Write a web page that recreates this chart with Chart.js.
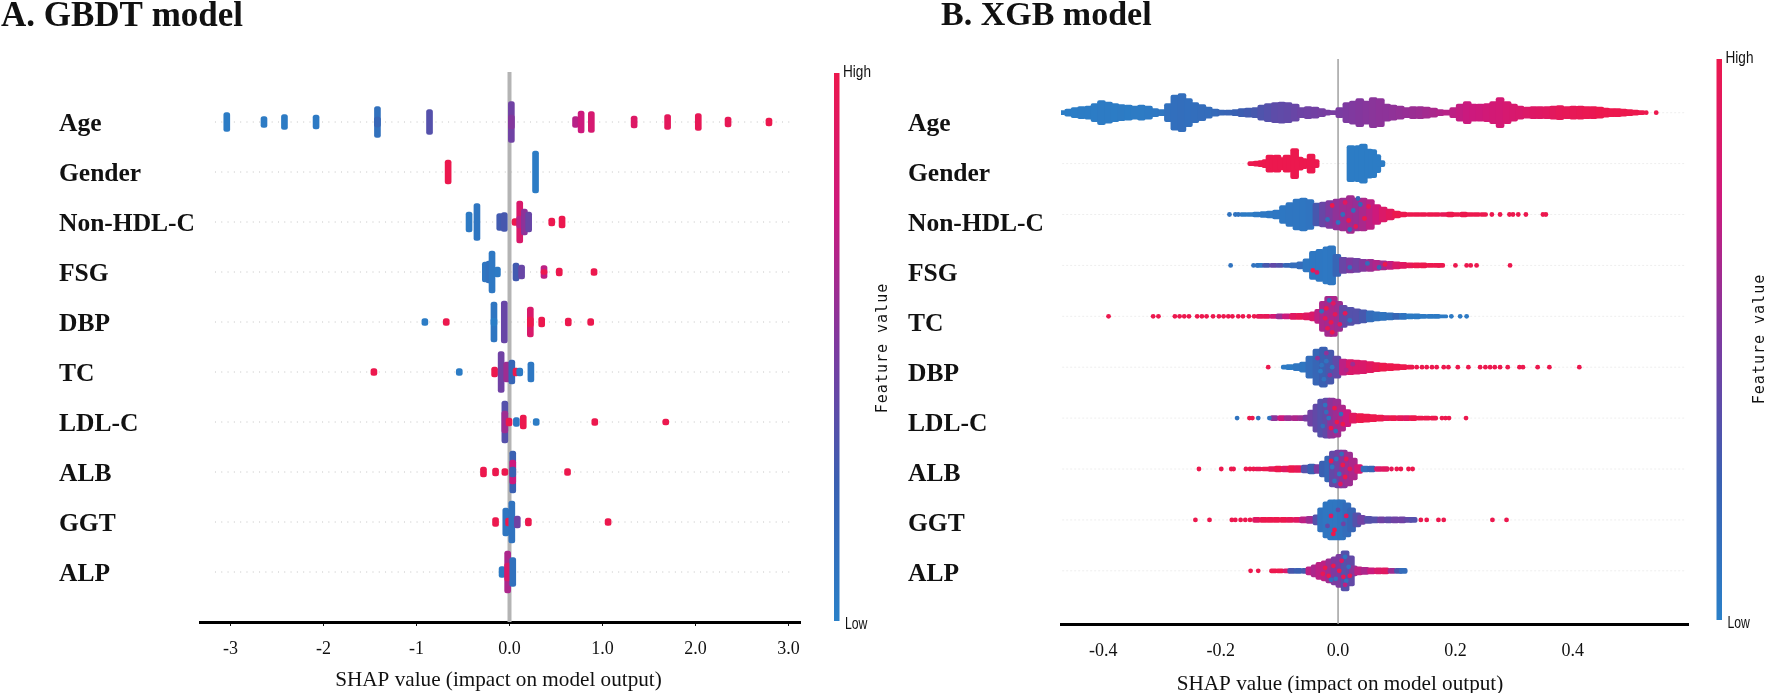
<!DOCTYPE html>
<html lang="en">
<head>
  <meta charset="UTF-8">
  <title>SHAP summary: GBDT and XGB models</title>
  <script src="https://cdn.jsdelivr.net/npm/chart.js"></script>
  <style>
    body { margin: 0; background: #fff; }
    canvas { position: absolute; top: 0; }
    #gbdtChart { left: 0; }
    #xgbChart { left: 905px; }
  </style>
</head>
<body>

<canvas id="gbdtChart" width="905" height="693"></canvas>
<canvas id="xgbChart" width="865" height="693"></canvas>

<script>
const gbdtFeatures = ['Age', 'Gender', 'Non-HDL-C', 'FSG', 'DBP', 'TC', 'LDL-C', 'ALB', 'GGT', 'ALP'];
const xgbFeatures = ['Age', 'Gender', 'Non-HDL-C', 'FSG', 'TC', 'DBP', 'LDL-C', 'ALB', 'GGT', 'ALP'];

const gbdtTicks = [-3, -2, -1, 0, 1, 2, 3];
const gbdtTickLabels = ['-3', '-2', '-1', '0.0', '1.0', '2.0', '3.0'];
const xgbTicks = [-0.4, -0.2, 0, 0.2, 0.4];
const xgbTickLabels = ['-0.4', '-0.2', '0.0', '0.2', '0.4'];

// swarm columns: [shap value, samples stacked, feature value 0-1]
const gbdtAge = [[-3.04,19,.03],[-2.64,11,.04],[-2.42,15,.04],[-2.08,14,.05],[-1.42,31,.12],[-1.42,10,.2],[-0.86,25,.35],[0.02,41,.45],[0.02,14,.52],[0.71,11,.68],[0.77,22,.75],[0.88,21,.82],[1.34,12,.88],[1.70,15,.93],[2.03,17,.96],[2.35,10,.96],[2.79,8,1]];
const gbdtGender = [[-0.66,24,1],[0.28,42,.03]];
const gbdtNonHdl = [[-0.435,20,.05],[-0.35,37,.08],[-0.105,17,.28],[-0.056,19,.3],[0.06,7,1],[0.11,42,.85],[0.11,12,.7],[0.16,26,.55],[0.206,20,.42],[0.454,8,1],[0.565,12,1]];
const gbdtFsg = [[-0.26,20,.08],[-0.22,22,.12],[-0.188,42,.06],[-0.13,10,.05],[0.07,18,.28],[0.13,14,.42],[0.371,13,.7],[0.371,5,1],[0.535,8,1],[0.909,7,1]];
const gbdtDbp = [[-0.91,7,.03],[-0.68,7,1],[-0.167,40,.08],[-0.167,8,.02],[-0.056,42,.42],[0.224,30,.85],[0.224,10,1],[0.346,10,1],[0.632,8,1],[0.873,7,1]];
const gbdtTc = [[-1.458,7,1],[-0.54,7,.03],[-0.16,10,1],[-0.09,41,.45],[-0.03,20,.6],[0.025,24,.2],[0.07,8,1],[0.11,8,.05],[0.23,20,.06]];
const gbdtLdl = [[-0.05,42,.35],[-0.05,22,.6],[-0.005,8,1],[0.074,9,.06],[0.148,14,1],[0.287,7,.03],[0.917,7,1],[1.68,6,1]];
const gbdtAlb = [[-0.28,10,1],[-0.15,8,1],[-0.05,7,1],[0.035,42,.25],[0.035,24,.75],[0.035,10,.25],[0.624,7,1]];
const gbdtGgt = [[-0.15,9,1],[-0.04,28,.08],[-0.01,8,1],[0.025,42,.1],[0.084,12,.45],[0.203,8,1],[1.06,7,1]];
const gbdtAlp = [[-0.08,11,.05],[-0.02,42,.65],[-0.02,18,.85],[0.035,29,.12]];

const xgbAge = [[-0.471,4,.02],[-0.459,7,.02],[-0.448,10,.02],[-0.437,12,.03],[-0.425,13,.03],[-0.414,18,.03],[-0.403,24,.04],[-0.391,21,.04],[-0.380,18,.03],[-0.369,16,.04],[-0.357,15,.03],[-0.346,13,.04],[-0.335,15,.04],[-0.323,13,.05],[-0.312,8,.06],[-0.300,6,.08],[-0.289,18,.12],[-0.278,35,.13],[-0.266,38,.14],[-0.255,28,.13],[-0.244,20,.14],[-0.232,16,.15],[-0.221,11,.15],[-0.209,7,.17],[-0.198,5,.2],[-0.187,5,.22],[-0.175,6,.24],[-0.164,8,.26],[-0.153,9,.28],[-0.141,10,.3],[-0.130,15,.33],[-0.119,18,.35],[-0.107,20,.38],[-0.096,21,.39],[-0.085,20,.4],[-0.073,17,.42],[-0.062,10,.44],[-0.051,12,.45],[-0.039,11,.46],[-0.028,8,.47],[-0.019,5,.48],[-0.008,4,.48],[0.003,10,.49],[0.015,20,.5],[0.026,23,.51],[0.037,28,.52],[0.049,23,.53],[0.060,30,.54],[0.072,28,.55],[0.083,17,.55],[0.094,15,.56],[0.106,13,.57],[0.117,10,.58],[0.128,12,.59],[0.140,12,.6],[0.151,11,.62],[0.163,9,.64],[0.174,6,.66],[0.185,5,.68],[0.197,10,.7],[0.208,17,.72],[0.220,22,.74],[0.231,17,.75],[0.242,17,.76],[0.254,18,.78],[0.265,22,.79],[0.276,30,.8],[0.288,22,.82],[0.299,17,.83],[0.310,13,.84],[0.322,11,.86],[0.333,12,.88],[0.344,12,.89],[0.356,12,.9],[0.367,13,.92],[0.378,14,.94],[0.390,12,.95],[0.401,13,.96],[0.413,13,.97],[0.424,12,.98],[0.435,12,.98],[0.446,11,1],[0.456,9,1],[0.466,8,1],[0.476,8,1],[0.486,7,1],[0.496,6,1],[0.506,5,1],[0.516,4,1]];
const xgbGender = [[-0.147,4,1],[-0.138,5,1],[-0.130,6,1],[-0.123,8,1],[-0.116,17,1],[-0.110,9,1],[-0.104,17,1],[-0.096,12,1],[-0.087,17,1],[-0.080,14,1],[-0.074,30,1],[-0.066,13,1],[-0.059,10,1],[-0.052,8,1],[-0.046,19,1],[-0.039,8,1],[0.022,36,.03],[0.035,36,.03],[0.043,39,.03],[0.052,29,.03],[0.059,28,.03],[0.066,18,.03],[0.073,6,.03]];
const xgbNonHdl = [[-0.161,4,.04],[-0.150,4,.04],[-0.139,5,.05],[-0.127,6,.06],[-0.116,7,.06],[-0.105,9,.07],[-0.093,18,.07],[-0.082,24,.08],[-0.070,31,.08],[-0.059,33,.08],[-0.048,30,.09],[-0.036,23,.3],[-0.025,25,.42],[-0.014,28,.5],[-0.002,31,.56],[0.009,33,.6],[0.021,38,.62],[0.032,33,.58],[0.043,33,.64],[0.055,30,.7],[0.066,20,.76],[0.077,15,.86],[0.089,11,.92],[0.100,7,1],[0.111,5,1],[0.123,4,1],[0.134,4,1],[0.145,4,1],[0.157,4,1],[0.168,4,1],[0.180,4,.95],[0.191,5,1],[0.202,4,1],[0.214,5,1],[0.225,4,1],[0.236,4,1],[0.248,4,1]];
const xgbFsg = [[-0.133,4,.05],[-0.122,4,.3],[-0.110,4,.4],[-0.099,4,.35],[-0.087,4,.2],[-0.076,5,.15],[-0.064,7,.15],[-0.053,13,.08],[-0.042,28,.07],[-0.031,32,.07],[-0.019,37,.06],[-0.011,39,.07],[-0.002,22,.2],[0.009,16,.42],[0.021,15,.5],[0.032,14,.45],[0.043,12,.52],[0.055,12,.6],[0.066,10,.66],[0.077,9,.62],[0.089,8,.72],[0.100,7,.85],[0.111,6,.9],[0.123,5,.95],[0.134,5,1],[0.145,5,1],[0.157,4,1],[0.168,4,1],[0.175,4,1]];
const xgbTc = [[-0.133,4,.95],[-0.122,4,.95],[-0.110,4,.8],[-0.099,5,.6],[-0.088,5,.75],[-0.076,6,.9],[-0.065,6,.95],[-0.053,7,.9],[-0.042,9,.85],[-0.033,14,.7],[-0.025,30,.65],[-0.016,40,.62],[-0.008,40,.65],[0.001,30,.6],[0.009,22,.4],[0.021,18,.35],[0.032,15,.35],[0.043,13,.3],[0.055,11,.15],[0.066,9,.12],[0.077,8,.1],[0.089,7,.12],[0.100,6,.2],[0.111,6,.1],[0.123,5,.05],[0.134,5,.05],[0.145,4,.05],[0.157,4,.05],[0.168,4,.05],[0.180,3,.05]];
const xgbDbp = [[-0.090,4,.05],[-0.082,5,.05],[-0.070,7,.08],[-0.059,10,.08],[-0.048,22,.15],[-0.036,36,.2],[-0.025,40,.25],[-0.014,34,.3],[-0.002,22,.4],[0.009,16,.7],[0.021,15,.85],[0.032,14,.85],[0.043,13,.85],[0.055,11,.9],[0.066,9,.95],[0.077,8,1],[0.089,7,1],[0.100,6,1],[0.111,5,1],[0.123,4,1]];
const xgbLdl = [[-0.109,5,.55],[-0.096,5,.75],[-0.085,5,.6],[-0.073,5,.65],[-0.062,5,.6],[-0.053,6,.5],[-0.045,16,.45],[-0.036,28,.4],[-0.028,38,.35],[-0.019,40,.4],[-0.011,40,.55],[-0.002,38,.6],[0.006,26,.65],[0.015,17,.75],[0.026,10,.9],[0.038,9,1],[0.049,8,1],[0.060,7,1],[0.072,6,1],[0.083,5,.95],[0.094,5,1],[0.106,5,.95],[0.117,5,.9],[0.128,5,1],[0.140,4,1],[0.151,4,1],[0.163,4,1]];
const xgbAlb = [[-0.136,4,.95],[-0.124,4,1],[-0.113,5,.95],[-0.102,6,1],[-0.090,6,.9],[-0.079,7,1],[-0.068,7,.95],[-0.056,8,.35],[-0.045,10,.25],[-0.034,9,.5],[-0.025,16,.25],[-0.016,26,.2],[-0.008,36,.4],[0.001,38,.45],[0.009,38,.55],[0.018,34,.6],[0.026,22,.65],[0.035,9,.8],[0.046,6,.15],[0.057,6,.2],[0.069,5,.85],[0.080,5,.9]];
const xgbGgt = [[-0.139,5,.9],[-0.127,5,1],[-0.116,5,1],[-0.105,5,1],[-0.093,5,1],[-0.082,5,.95],[-0.070,5,.9],[-0.059,6,.7],[-0.048,7,.6],[-0.036,10,.35],[-0.028,24,.1],[-0.019,36,.08],[-0.011,40,.08],[-0.002,40,.08],[0.006,40,.1],[0.015,34,.15],[0.023,24,.2],[0.032,14,.35],[0.040,9,.45],[0.052,7,.35],[0.063,6,.35],[0.074,6,.45],[0.086,6,.4],[0.097,6,.45],[0.109,6,.45],[0.120,5,.4],[0.128,5,.35]];
const xgbAlp = [[-0.110,4,1],[-0.099,4,1],[-0.087,4,.85],[-0.079,5,.3],[-0.068,5,.25],[-0.056,5,.3],[-0.048,8,.7],[-0.039,12,.65],[-0.031,17,.7],[-0.022,20,.7],[-0.014,24,.6],[-0.005,28,.5],[0.003,33,.5],[0.012,40,.35],[0.021,30,.4],[0.026,10,.55],[0.035,8,.7],[0.046,7,.65],[0.057,6,.75],[0.069,6,.85],[0.080,6,.9],[0.092,5,.6],[0.103,5,.3],[0.111,5,.15]];

// single samples outside the swarms: [shap value, feature value 0-1]
const xgbAgeDots = [[0.525,1],[0.542,1]];
const xgbGenderDots = [];
const xgbNonHdlDots = [[-0.185,.1],[-0.175,.1],[-0.170,.1],[0.262,1],[0.276,1],[0.292,1],[0.298,1],[0.307,1],[0.320,1],[0.349,1],[0.354,1]];
const xgbFsgDots = [[-0.183,.1],[-0.144,.1],[-0.138,.1],[0.200,1],[0.219,1],[0.226,1],[0.236,1],[0.293,1]];
const xgbTcDots = [[-0.391,1],[-0.315,1],[-0.306,1],[-0.278,1],[-0.270,1],[-0.262,1],[-0.254,1],[-0.240,1],[-0.232,1],[-0.224,1],[-0.213,1],[-0.203,1],[-0.195,1],[-0.187,1],[-0.180,1],[-0.170,1],[-0.162,1],[-0.152,1],[-0.143,1],[0.193,.05],[0.208,.05],[0.219,.05]];
const xgbDbpDots = [[-0.119,1],[0.134,1],[0.143,1],[0.151,1],[0.160,1],[0.168,1],[0.180,1],[0.188,1],[0.204,1],[0.222,1],[0.242,1],[0.251,1],[0.259,1],[0.267,1],[0.276,1],[0.289,1],[0.309,1],[0.315,1],[0.340,1],[0.360,1],[0.411,1]];
const xgbLdlDots = [[-0.172,.1],[-0.151,1],[-0.146,1],[-0.136,.1],[-0.117,.1],[0.177,1],[0.183,1],[0.189,1],[0.218,1]];
const xgbAlbDots = [[-0.237,1],[-0.199,1],[-0.182,1],[-0.178,1],[-0.157,1],[-0.150,1],[-0.144,1],[0.091,.95],[0.100,1],[0.107,1],[0.120,1],[0.127,1]];
const xgbGgtDots = [[-0.243,1],[-0.219,1],[-0.181,1],[-0.175,1],[-0.166,1],[-0.158,1],[-0.150,1],[0.141,1],[0.151,1],[0.171,1],[0.180,1],[0.263,1],[0.287,1]];
const xgbAlpDots = [[-0.149,1],[-0.136,1]];

// samples that stand out inside the dense middle: [shap value, samples off the row centre, feature value 0-1]
const xgbNonHdlFleck = [[-0.01,-9,1],[0.0,8,.1],[0.012,-12,.9],[0.018,6,1],[0.026,-4,.15],[0.03,12,.95],[0.038,-10,.2],[0.045,4,1],[0.052,-8,.95],[0.008,0,.15],[0.034,-16,.2],[-0.018,5,.15],[0.02,15,.2]];
const xgbFsgFleck = [[-0.043,5,1],[-0.036,7,.85],[0.02,2,.15],[0.05,-2,.15],[0.07,2,.2],[0.08,-1,1]];
const xgbTcFleck = [[-0.02,-8,1],[-0.012,6,1],[-0.005,-2,.95],[-0.018,12,.95],[-0.01,16,1],[-0.022,2,.95],[0.003,8,.9],[-0.008,-13,.9],[0.012,-3,.95],[0.02,4,.1],[-0.028,-5,.15],[-0.015,-16,.15]];
const xgbDbpFleck = [[-0.03,4,.05],[-0.02,-6,.1],[-0.014,8,.55],[-0.024,12,.1],[-0.035,-9,.55],[-0.01,0,.05],[-0.02,-14,.55],[-0.028,-2,.1],[0.014,3,.65],[0.025,-3,.6]];
const xgbLdlFleck = [[-0.02,-6,.15],[-0.026,8,.15],[-0.006,-10,1],[-0.002,4,1],[-0.012,10,1],[-0.016,0,.1],[-0.004,13,.15],[-0.022,-13,.1],[0.005,-4,.15],[0.008,6,1]];
const xgbAlbFleck = [[-0.003,-10,.1],[0.002,5,.08],[0.008,-4,1],[0.012,8,1],[0.014,-10,.95],[-0.006,12,.1],[0.02,0,.95],[-0.01,-2,.08],[0.004,15,.9],[0.006,-15,.15],[-0.012,-8,1]];
const xgbGgtFleck = [[-0.012,-4,.9],[-0.006,10,1],[-0.018,6,.4],[0.0,-10,.4],[0.009,4,.45],[-0.008,14,1],[0.014,-4,.9]];
const xgbAlpFleck = [[-0.022,-3,1],[-0.016,5,1],[-0.008,-5,1],[-0.004,8,.1],[0.002,0,1],[0.006,-10,.9],[0.009,6,.95],[0.012,-14,.1],[0.014,10,.1],[-0.012,9,.15],[-0.026,3,.95],[0.018,-4,.1],[0.02,5,.95],[0.012,14,.7]];
const xgbFleckRows = [[], [], xgbNonHdlFleck, xgbFsgFleck, xgbTcFleck, xgbDbpFleck, xgbLdlFleck, xgbAlbFleck, xgbGgtFleck, xgbAlpFleck];

const gbdtRows = [gbdtAge, gbdtGender, gbdtNonHdl, gbdtFsg, gbdtDbp, gbdtTc, gbdtLdl, gbdtAlb, gbdtGgt, gbdtAlp];
const xgbRows = [xgbAge, xgbGender, xgbNonHdl, xgbFsg, xgbTc, xgbDbp, xgbLdl, xgbAlb, xgbGgt, xgbAlp];
const xgbDotRows = [xgbAgeDots, xgbGenderDots, xgbNonHdlDots, xgbFsgDots, xgbTcDots, xgbDbpDots, xgbLdlDots, xgbAlbDots, xgbGgtDots, xgbAlpDots];

const toneStops = [[0, 42, 128, 200], [.25, 58, 96, 178], [.5, 125, 58, 160], [.75, 205, 25, 125], [1, 236, 24, 78]];
const serif = '"Liberation Serif", serif';

function toneColor(t) {
  for (let i = 1; i < toneStops.length; i++) {
    const a = toneStops[i - 1], b = toneStops[i];
    if (t <= b[0]) {
      const f = (t - a[0]) / (b[0] - a[0]);
      return `rgb(${a[1] + (b[1] - a[1]) * f},${a[2] + (b[2] - a[2]) * f},${a[3] + (b[3] - a[3]) * f})`;
    }
  }
  return 'rgb(236,24,78)';
}

// colour bar and the free-standing captions, one set per panel
function panelDecor(cfg) {
  return {
    id: 'panelDecor',
    afterDraw(chart) {
      const c = chart.ctx;
      c.save();
      const g = c.createLinearGradient(0, cfg.barBottom, 0, cfg.barTop);
      toneStops.forEach(s => g.addColorStop(s[0], `rgb(${s[1]},${s[2]},${s[3]})`));
      c.fillStyle = g;
      c.fillRect(cfg.barX, cfg.barTop, 5.5, cfg.barBottom - cfg.barTop);

      c.fillStyle = '#111';
      c.textBaseline = 'alphabetic';
      c.font = `bold ${cfg.titleSize}px ${serif}`;
      c.fillText(cfg.title, cfg.titleX, cfg.titleY);
      c.font = `21.2px ${serif}`;
      c.textAlign = 'center';
      c.fillText('SHAP value (impact on model output)', cfg.axisTitleX, cfg.axisTitleY);

      // High / Low are a condensed face in the original
      c.textAlign = 'left';
      c.font = '17px "Liberation Sans", sans-serif';
      c.save();
      c.translate(cfg.barX + 9, cfg.barTop + 4);
      c.scale(.8, 1);
      c.fillText('High', 0, 0);
      c.restore();
      c.save();
      c.translate(cfg.barX + 11, cfg.barBottom + 8);
      c.scale(.72, 1);
      c.fillText('Low', 0, 0);
      c.restore();

      c.translate(cfg.valueX, cfg.valueY);
      c.rotate(-Math.PI / 2);
      c.textAlign = 'center';
      c.textBaseline = 'middle';
      c.font = '15px "DejaVu Sans Mono", monospace';
      c.letterSpacing = '1px';
      c.fillText('Feature value', 0, 0);
      c.restore();
    }
  };
}

function swarmChart(id, p) {
  const columns = [];
  p.rows.forEach((row, r) => row.forEach(([shap, samples, tone]) => {
    columns.push({ x: shap, y: [r - samples / 2 / p.samplesPerRow, r + samples / 2 / p.samplesPerRow], tone });
  }));
  const dots = [];
  (p.dotRows || []).forEach((row, r) => row.forEach(([shap, tone]) => dots.push({ x: shap, y: r, tone })));
  const flecks = [];
  (p.fleckRows || []).forEach((row, r) => row.forEach(([shap, off, tone]) => flecks.push({ x: shap, y: r + off / p.samplesPerRow, tone })));

  const rowLines = p.rows.map((row, r) => ({
    type: 'line',
    data: [{ x: p.dotFrom, y: r }, { x: p.dotTo, y: r }],
    borderColor: p.dotColor,
    borderWidth: 1,
    borderDash: p.dotDash,
    pointRadius: 0,
    yAxisID: 'y',
    order: 3
  }));

  return new Chart(document.getElementById(id), {
    type: 'bar',
    data: {
      datasets: [
        {
          type: 'scatter',
          data: dots.concat(flecks),
          pointRadius: 2.4,
          pointBorderWidth: 0,
          backgroundColor: c => toneColor(c.raw ? c.raw.tone : 0),
          yAxisID: 'y',
          order: 0
        },
        {
          data: columns,
          barThickness: p.barWidth,
          borderRadius: p.barRadius,
          borderSkipped: false,
          backgroundColor: c => toneColor(c.raw ? c.raw.tone : 0),
          yAxisID: 'y',
          order: 1
        },
        {
          type: 'line',
          data: [{ x: 0, y: p.yMin }, { x: 0, y: p.yMax }],
          borderColor: p.zeroColor,
          borderWidth: p.zeroWidth,
          pointRadius: 0,
          yAxisID: 'y',
          order: 2
        },
        ...rowLines
      ]
    },
    plugins: [panelDecor(p.decor)],
    options: {
      responsive: false,
      animation: false,
      layout: { padding: p.padding },
      plugins: { legend: { display: false }, tooltip: { enabled: false } },
      scales: {
        x: {
          type: 'linear',
          offset: false,
          min: p.xMin,
          max: p.xMax,
          afterBuildTicks: s => { s.ticks = p.ticks.map(v => ({ value: v })); },
          afterFit: s => { s.height = 693 - p.plotBottom; },
          ticks: {
            autoSkip: false,
            maxRotation: 0,
            color: '#111',
            padding: 12,
            font: { family: serif, size: 18 },
            callback: v => p.tickLabels[p.ticks.indexOf(v)]
          },
          grid: { drawOnChartArea: false, offset: false, tickColor: p.tickColor, tickLength: 4 },
          border: { color: '#000', width: 3 }
        },
        y: { type: 'linear', display: false, reverse: true, min: p.yMin, max: p.yMax },
        rowLabels: {
          type: 'linear',
          position: 'left',
          reverse: true,
          min: p.labelMin,
          max: p.labelMax,
          afterBuildTicks: s => { s.ticks = p.features.map((f, i) => ({ value: i })); },
          afterFit: s => { s.width = p.labelWidth; },
          ticks: {
            autoSkip: false,
            crossAlign: 'far',
            color: '#111',
            font: { family: serif, size: 25.5, weight: 'bold' },
            callback: v => p.features[v]
          },
          grid: { display: false },
          border: { display: false }
        }
      }
    }
  });
}

swarmChart('gbdtChart', {
  rows: gbdtRows,
  features: gbdtFeatures,
  ticks: gbdtTicks,
  tickLabels: gbdtTickLabels,
  samplesPerRow: 50,
  barWidth: 6,
  barRadius: 2.5,
  xMin: -3.328, xMax: 3.129,
  yMin: -1, yMax: 10,
  labelMin: -1.05, labelMax: 9.95,
  dotFrom: -3.167, dotTo: 3.05,
  dotColor: '#c4c4c4', dotDash: [1, 5.3],
  zeroColor: '#b4b4b4', zeroWidth: 4,
  tickColor: '#111',
  plotBottom: 622,
  labelWidth: 141,
  padding: { left: 59, right: 104.5, top: 72, bottom: 0 },
  decor: { title: 'A. GBDT model', titleSize: 35, titleX: 1, titleY: 26, axisTitleX: 498.5, axisTitleY: 686, barX: 834, barTop: 73, barBottom: 621, valueX: 883, valueY: 348 }
});

swarmChart('xgbChart', {
  rows: xgbRows,
  dotRows: xgbDotRows,
  fleckRows: xgbFleckRows,
  features: xgbFeatures,
  ticks: xgbTicks,
  tickLabels: xgbTickLabels,
  samplesPerRow: 50.9,
  barWidth: 8,
  barRadius: 2,
  xMin: -0.472, xMax: 0.597,
  yMin: -1.055, yMax: 10.045,
  labelMin: -1.31, labelMax: 9.99,
  dotFrom: -0.47, dotTo: 0.59,
  dotColor: '#eeeeee', dotDash: [2, 2],
  zeroColor: '#a0a0a0', zeroWidth: 1.5,
  tickColor: 'rgba(0,0,0,0)',
  plotBottom: 624,
  labelWidth: 153,
  padding: { left: 3, right: 81.5, top: 59, bottom: 0 },
  decor: { title: 'B. XGB model', titleSize: 34, titleX: 36, titleY: 25, axisTitleX: 435, axisTitleY: 690, barX: 811.5, barTop: 59, barBottom: 620, valueX: 855.5, valueY: 339 }
});
</script>
</body>
</html>
